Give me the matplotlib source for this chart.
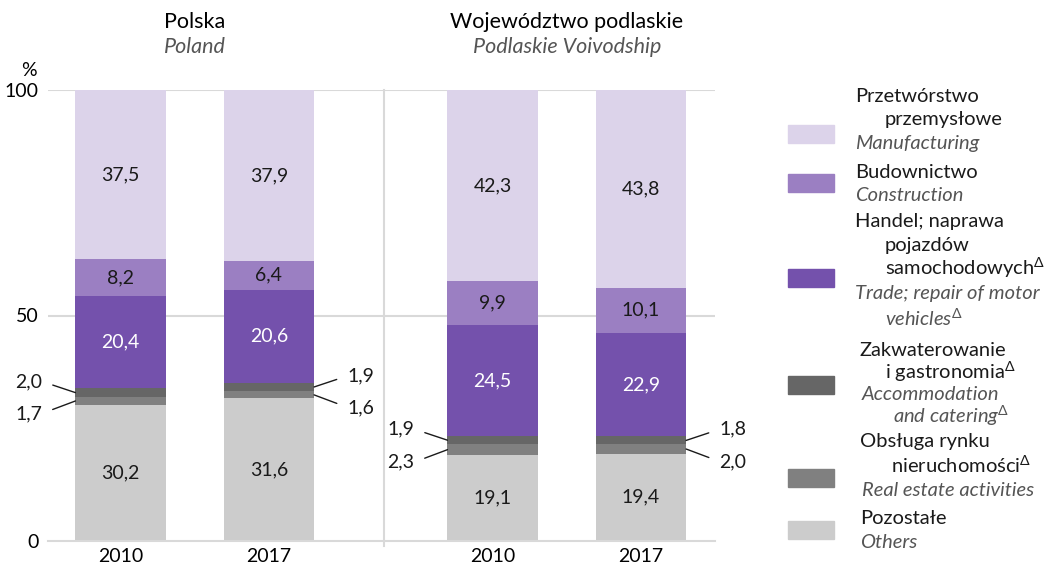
import matplotlib.pyplot as plt
from matplotlib.patches import Rectangle

plt.rcParams['font.family'] = ['Lato', 'DejaVu Sans']
plt.rcParams['mathtext.fontset'] = 'custom'
plt.rcParams['mathtext.rm'] = 'Lato'

years = ['2010', '2017', '2010', '2017']
positions = [0, 1, 2.51, 3.51]

# bottom -> top
others = [30.2, 31.6, 19.1, 19.4]
real_estate = [1.7, 1.6, 2.3, 2.0]
accommodation = [2.0, 1.9, 1.9, 1.8]
trade = [20.4, 20.6, 24.5, 22.9]
construction = [8.2, 6.4, 9.9, 10.1]
manufacturing = [37.5, 37.9, 42.3, 43.8]

series = [others, real_estate, accommodation, trade, construction, manufacturing]
colors = ['#cccccc', '#808080', '#666666', '#7451ac', '#9b7fc2', '#dcd3ea']

FS = 14

fig = plt.figure(figsize=(10.48, 5.71), dpi=100)
ax = fig.add_axes([48 / 1048, 30 / 571, (715 - 48) / 1048, 451 / 571])

width = 0.61
bottoms = [0, 0, 0, 0]
for vals, c in zip(series, colors):
    ax.bar(positions, vals, width=width, bottom=bottoms, color=c, edgecolor='none', zorder=2)
    bottoms = [b + v for b, v in zip(bottoms, vals)]


def fmt(v):
    return f'{v:.1f}'.replace('.', ',')


# labels inside bars
for idx, vals in [(0, others), (3, trade), (4, construction), (5, manufacturing)]:
    base = [sum(s[i] for s in series[:idx]) for i in range(4)]
    for i, v in enumerate(vals):
        ax.text(positions[i], base[i] + v / 2, fmt(v), ha='center', va='center',
                fontsize=FS, color='white' if idx == 3 else '#1a1a1a', zorder=3)

# leader labels for small segments
for i in range(4):
    left = i in (0, 2)
    xe = positions[i] - width / 2 if left else positions[i] + width / 2
    sx = -1 if left else 1
    ha = 'right' if left else 'left'
    relpos = (1, 0.5) if left else (0, 0.5)
    m_re = others[i] + real_estate[i] / 2
    m_ac = others[i] + real_estate[i] + accommodation[i] / 2
    for mid, dy, v in [(m_ac, 8, accommodation[i]), (m_re, -9, real_estate[i])]:
        ax.annotate(fmt(v), xy=(xe, mid), xytext=(sx * 24, dy), textcoords='offset points',
                    ha=ha, va='center', fontsize=FS, color='#1a1a1a',
                    arrowprops=dict(arrowstyle='-', color='#1a1a1a', lw=1,
                                    relpos=relpos, shrinkA=6, shrinkB=0))

ax.set_xlim(-0.49, 4.01)
ax.set_ylim(0, 100)
for s in ['top', 'right', 'left']:
    ax.spines[s].set_visible(False)
ax.spines['bottom'].set_color('#d9d9d9')
ax.spines['bottom'].set_linewidth(1.5)
ax.set_yticks([0, 50, 100])
ax.set_yticklabels(['0', '50', '100'], fontsize=FS)
ax.tick_params(axis='y', length=0, pad=7)
ax.set_xticks(positions)
ax.set_xticklabels(years, fontsize=FS)
ax.tick_params(axis='x', length=0, pad=5)
for yv in [50, 100]:
    ax.axhline(yv, color='#d9d9d9', lw=1.5, zorder=1)
ax.plot([1.78, 1.78], [-1, 100], color='#d9d9d9', lw=1.5, clip_on=False, zorder=1)
fig.text(29 / 1048, 1 - 70 / 571, '%', ha='center', va='center', fontsize=FS)

# group titles
fig.text(195 / 1048, 1 - 22 / 571, 'Polska', ha='center', va='center', fontsize=15.5)
fig.text(195 / 1048, 1 - 47 / 571, 'Poland', ha='center', va='center', fontsize=15.5,
         style='italic', color='#555555')
fig.text(567 / 1048, 1 - 22 / 571, 'Województwo podlaskie', ha='center', va='center', fontsize=15.5)
fig.text(567 / 1048, 1 - 47 / 571, 'Podlaskie Voivodship', ha='center', va='center', fontsize=15.5,
         style='italic', color='#555555')

# legend
legend_y = [134, 183, 278, 385, 478, 530]
legend_colors = ['#dcd3ea', '#9b7fc2', '#7451ac', '#666666', '#808080', '#cccccc']
for y, c in zip(legend_y, legend_colors):
    fig.patches.append(Rectangle((788 / 1048, 1 - (y + 9) / 571), 46 / 1048, 18 / 571,
                                 transform=fig.transFigure, color=c))

D = r'$^{\Delta}$'
legend_lines = [
    (855, 97, 'Przetwórstwo', False),
    (885, 120, 'przemysłowe', False),
    (855, 143, 'Manufacturing', True),
    (855, 172, 'Budownictwo', False),
    (855, 195, 'Construction', True),
    (855, 222, 'Handel; naprawa', False),
    (885, 245, 'pojazdów', False),
    (885, 268, 'samochodowych' + D, False),
    (855, 294, 'Trade; repair of motor', True),
    (885, 318, 'vehicles' + D, True),
    (860, 350, 'Zakwaterowanie', False),
    (885, 372, 'i gastronomia' + D, False),
    (862, 394, 'Accommodation', True),
    (893, 416, 'and catering' + D, True),
    (860, 441, 'Obsługa rynku', False),
    (891, 465, 'nieruchomości' + D, False),
    (862, 490, 'Real estate activities', True),
    (860, 518, 'Pozostałe', False),
    (860, 543, 'Others', True),
]
for x, y, t, it in legend_lines:
    fig.text(x / 1048, 1 - y / 571, t, ha='left', va='center', fontsize=14.5,
             style='italic' if it else 'normal', color='#555555' if it else '#1a1a1a')

fig.savefig('out.png', dpi=100)
